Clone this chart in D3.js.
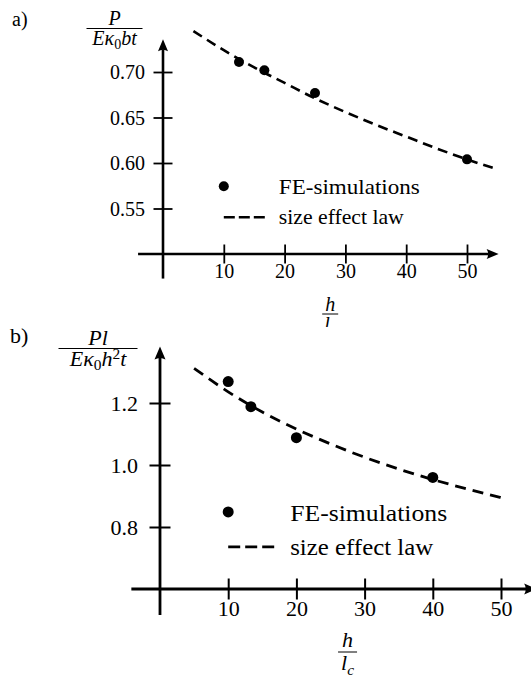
<!DOCTYPE html>
<html>
<head>
<meta charset="utf-8">
<script src="https://cdn.jsdelivr.net/npm/d3@7"></script>
<style>
body { margin: 0; background: #fff; }
</style>
</head>
<body>
<div id="chart"></div>
<script>
// panel a) : P / (E k0 b t) vs h / l_c
var ratioA = [12.5, 16.67, 25, 50];
var loadA = [0.711, 0.702, 0.677, 0.604];
var lawRatioA = [5, 10, 15, 20, 25, 30, 35, 40, 45, 50, 55];
var lawLoadA = [0.745, 0.724, 0.705, 0.688, 0.671, 0.656, 0.642, 0.629, 0.616, 0.604, 0.593];
var xTicksA = [10, 20, 30, 40, 50];
var yTicksA = [0.55, 0.60, 0.65, 0.70];

// panel b) : P l / (E k0 h^2 t) vs h / l_c
var ratioB = [10, 13.33, 20, 40];
var loadB = [1.269, 1.188, 1.088, 0.960];
var lawRatioB = [5, 10, 15, 20, 25, 30, 35, 40, 45, 50];
var lawLoadB = [1.312, 1.236, 1.171, 1.116, 1.068, 1.025, 0.987, 0.953, 0.923, 0.895];
var xTicksB = [10, 20, 30, 40, 50];
var yTicksB = [0.8, 1.0, 1.2];

var legendLabels = ["FE-simulations", "size effect law"];
var serif = "'Liberation Serif', 'Times New Roman'";

var svg = d3.select("#chart")
    .append("svg")
    .attr("width", 531)
    .attr("height", 679);

svg.append("defs").append("clipPath")
    .attr("id", "clipA")
    .append("rect")
    .attr("x", 0).attr("y", 0)
    .attr("width", 531).attr("height", 327);

// small helper to write math-ish text from pieces
function mathText(sel, parts, size) {
    parts.forEach(function (p) {
        sel.append("tspan")
            .text(p.t)
            .style("font-style", p.it ? "italic" : "normal")
            .style("font-size", size * (p.s || 1) + "px")
            .attr("dy", (p.dy || 0) * size);
    });
}

function fraction(g, cx, lineY, num, den, size, lineW, gap) {
    g.append("text")
        .attr("x", cx).attr("y", lineY - gap.top)
        .attr("text-anchor", "middle")
        .call(mathText, num, size);
    g.append("line")
        .attr("x1", cx - lineW / 2).attr("x2", cx + lineW / 2)
        .attr("y1", lineY).attr("y2", lineY)
        .attr("stroke", "#000").attr("stroke-width", 1);
    g.append("text")
        .attr("x", cx).attr("y", lineY + gap.bottom)
        .attr("text-anchor", "middle")
        .call(mathText, den, size);
}

function drawPanel(p) {
    var g = svg.append("g");
    var x = p.x, y = p.y;

    // panel letter
    g.append("text")
        .attr("x", p.letterPos[0]).attr("y", p.letterPos[1])
        .style("font-size", p.font + "px")
        .text(p.letter);

    // x axis (ticks crossing the line)
    var xAxis = g.append("g")
        .attr("transform", "translate(0," + y(p.yDomain[0]) + ")")
        .call(d3.axisBottom(x).tickValues(p.xTicks).tickSize(p.tick).tickFormat(d3.format("d")));
    xAxis.select(".domain").remove();
    xAxis.attr("font-family", null).attr("font-size", null);
    xAxis.selectAll(".tick line")
        .attr("y1", -p.tick / 2).attr("y2", p.tick / 2)
        .attr("stroke-width", p.tickW);
    xAxis.selectAll(".tick text")
        .attr("y", p.xLabelDy).attr("dy", null)
        .style("font-size", p.font + "px");

    // y axis
    var yAxis = g.append("g")
        .attr("transform", "translate(" + x(0) + ",0)")
        .call(d3.axisLeft(y).tickValues(p.yTicks).tickSize(p.tick).tickFormat(d3.format(p.yFormat)));
    yAxis.select(".domain").remove();
    yAxis.attr("font-family", null).attr("font-size", null);
    yAxis.selectAll(".tick line")
        .attr("x1", -p.tick / 2).attr("x2", p.tick / 2)
        .attr("stroke-width", p.tickW);
    yAxis.selectAll(".tick text")
        .attr("x", -p.yLabelDx).attr("dy", "0.33em")
        .style("font-size", p.font + "px");

    // axis lines with arrow heads
    var x0 = x(p.xLine[0]), x1 = x(p.xLine[1]), yb = y(p.yDomain[0]);
    g.append("line")
        .attr("x1", x0).attr("x2", x1 - p.arrow[0] + 2)
        .attr("y1", yb).attr("y2", yb)
        .attr("stroke", "#000").attr("stroke-width", p.axisW);
    g.append("path")
        .attr("d", "M" + x1 + "," + yb + "L" + (x1 - p.arrow[0]) + "," + (yb - p.arrow[1]) +
            "Q" + (x1 - p.arrow[0] * 0.75) + "," + yb + " " + (x1 - p.arrow[0]) + "," + (yb + p.arrow[1]) + "Z")
        .attr("fill", "#000");

    var y0 = y(p.yLine[0]), y1 = y(p.yLine[1]), xl = x(0);
    g.append("line")
        .attr("x1", xl).attr("x2", xl)
        .attr("y1", y0).attr("y2", y1 + p.arrow[0] - 2)
        .attr("stroke", "#000").attr("stroke-width", p.axisW);
    g.append("path")
        .attr("d", "M" + xl + "," + y1 + "L" + (xl - p.arrow[1]) + "," + (y1 + p.arrow[0]) +
            "Q" + xl + "," + (y1 + p.arrow[0] * 0.75) + " " + (xl + p.arrow[1]) + "," + (y1 + p.arrow[0]) + "Z")
        .attr("fill", "#000");

    // size effect law (dashed)
    var line = d3.line()
        .x(function (d) { return x(d[0]); })
        .y(function (d) { return y(d[1]); })
        .curve(d3.curveMonotoneX);
    g.append("path")
        .datum(d3.zip(p.lawX, p.lawY))
        .attr("d", line)
        .attr("fill", "none")
        .attr("stroke", "#000")
        .attr("stroke-width", p.dashW)
        .attr("stroke-dasharray", p.dash);

    // FE-simulation points
    g.selectAll(".pt")
        .data(d3.zip(p.ptX, p.ptY))
        .enter()
        .append("circle")
        .attr("class", "pt")
        .attr("cx", function (d) { return x(d[0]); })
        .attr("cy", function (d) { return y(d[1]); })
        .attr("r", p.r)
        .attr("fill", "#000");

    // legend
    var lx = x(p.legendAt[0]), ly = y(p.legendAt[1]);
    g.append("circle")
        .attr("cx", lx).attr("cy", ly)
        .attr("r", p.r).attr("fill", "#000");
    g.append("line")
        .attr("x1", lx).attr("x2", lx + p.legendDash)
        .attr("y1", ly + p.legendRow).attr("y2", ly + p.legendRow)
        .attr("stroke", "#000").attr("stroke-width", p.dashW)
        .attr("stroke-dasharray", p.legendDashArray);
    g.append("text")
        .attr("x", lx + p.legendText).attr("y", ly + p.legendBase)
        .style("font-size", p.legendFont + "px")
        .attr("textLength", p.legendW[0]).attr("lengthAdjust", "spacingAndGlyphs")
        .text(legendLabels[0]);
    g.append("text")
        .attr("x", lx + p.legendText).attr("y", ly + p.legendRow + p.legendBase - 1)
        .style("font-size", p.legendFont + "px")
        .attr("textLength", p.legendW[1]).attr("lengthAdjust", "spacingAndGlyphs")
        .text(legendLabels[1]);

    // y label
    fraction(g, p.yLabel.cx, p.yLabel.line, p.yLabel.num, p.yLabel.den, p.font, p.yLabel.w,
        { top: p.yLabel.gapTop, bottom: p.yLabel.gapBottom });

    // x label h / l_c
    var xg = g.append("g");
    if (p.clip) xg.attr("clip-path", "url(#" + p.clip + ")");
    fraction(xg, x(27.5), p.xLabel.line,
        [{ t: "h", it: true }],
        [{ t: "l", it: true }, { t: "c", it: true, s: 0.7, dy: 0.22 }],
        p.font, p.xLabel.w, { top: p.xLabel.gapTop, bottom: p.xLabel.gapBottom });
}

drawPanel({
    letter: "a)", letterPos: [12, 26],
    x: d3.scaleLinear().domain([0, 55]).range([163, 497.4]),
    y: d3.scaleLinear().domain([0.5, 0.7]).range([254, 72]),
    yDomain: [0.5, 0.7],
    xLine: [-4.1, 55.2], yLine: [0.473, 0.736],
    xTicks: xTicksA, yTicks: yTicksA, yFormat: ".2f",
    ptX: ratioA, ptY: loadA, lawX: lawRatioA, lawY: lawLoadA,
    font: 20, tick: 19, tickW: 1.8, axisW: 2.6, arrow: [12, 5],
    xLabelDy: 24, yLabelDx: 18,
    r: 5, dashW: 2.6, dash: "10,6",
    legendAt: [10, 0.5745], legendRow: 31, legendDash: 44, legendDashArray: "11,4",
    legendText: 55, legendBase: 8, legendFont: 21, legendW: [141, 125],
    yLabel: { cx: 114.5, line: 28.5, w: 56, gapTop: 4, gapBottom: 16,
        num: [{ t: "P", it: true }],
        den: [{ t: "E", it: true }, { t: "κ", it: true }, { t: "0", s: 0.7, dy: 0.2 }, { t: "bt", it: true, dy: -0.2 }] },
    xLabel: { line: 314, w: 16, gapTop: 3, gapBottom: 17 },
    clip: "clipA"
});

drawPanel({
    letter: "b)", letterPos: [10, 343],
    x: d3.scaleLinear().domain([0, 50]).range([160, 501]),
    y: d3.scaleLinear().domain([0.6, 1.2]).range([589, 403]),
    yDomain: [0.6, 1.2],
    xLine: [-4.2, 55.3], yLine: [0.516, 1.382],
    xTicks: xTicksB, yTicks: yTicksB, yFormat: ".1f",
    ptX: ratioB, ptY: loadB, lawX: lawRatioB, lawY: lawLoadB,
    font: 22, tick: 21, tickW: 2, axisW: 2.8, arrow: [13, 5.5],
    xLabelDy: 27, yLabelDx: 22,
    r: 5.5, dashW: 2.8, dash: "11,7",
    legendAt: [10, 0.8485], legendRow: 35, legendDash: 49, legendDashArray: "12,5",
    legendText: 62, legendBase: 9, legendFont: 23, legendW: [157, 143],
    yLabel: { cx: 98, line: 348.5, w: 79, gapTop: 4, gapBottom: 17,
        num: [{ t: "Pl", it: true }],
        den: [{ t: "E", it: true }, { t: "κ", it: true }, { t: "0", s: 0.7, dy: 0.2 },
            { t: "h", it: true, dy: -0.2 }, { t: "2", s: 0.7, dy: -0.3 }, { t: "t", it: true, dy: 0.3 }] },
    xLabel: { line: 652, w: 19, gapTop: 5, gapBottom: 18 },
    clip: null
});

// serif face for every text, set inline
svg.selectAll("text")
    .style("font-family", serif)
    .style("fill", "#000");
</script>
</body>
</html>
